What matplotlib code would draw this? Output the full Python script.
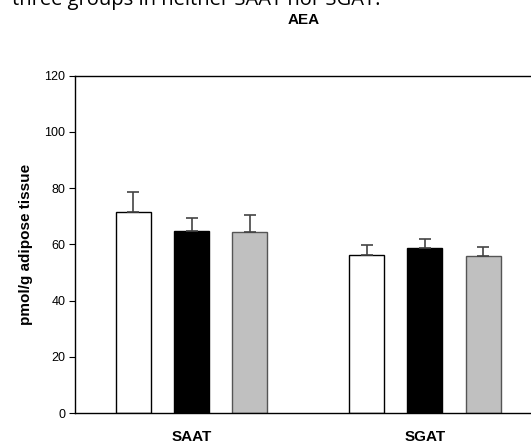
import matplotlib
matplotlib.use("Agg")
import matplotlib.pyplot as plt
import numpy as np

groups = ["SAAT", "SGAT"]
series_colors = ["white", "black", "#c0c0c0"]
edge_colors = ["black", "black", "#555555"]
# values per series (rows) for each group (columns)
means = [
    [71.5, 56.3],   # white
    [64.8, 58.6],   # black
    [64.4, 56.0],   # gray
]
errs = [
    [7.3, 3.6],
    [4.6, 3.4],
    [6.1, 3.2],
]
yticks = [0, 20, 40, 60, 80, 100, 120]
title = "AEA"
ylabel = "pmol/g adipose tissue"
caption = "three groups in neither SAAT nor SGAT."

W, H = 531, 445
fig = plt.figure(figsize=(W / 100, H / 100), dpi=100)
plt.rcParams['font.family'] = ['Liberation Sans', 'DejaVu Sans']

left = 75 / W
bottom = 1 - 413 / H
top = 1 - 75.7 / H
ax = fig.add_axes([left, bottom, 1.0196 - left, top - bottom])

group_pos = np.array([1.0, 5.0])
offsets = [-1, 0, 1]
for i in range(3):
    x = group_pos + offsets[i]
    ax.bar(x, means[i], width=0.6, color=series_colors[i], edgecolor=edge_colors[i],
           linewidth=1.0, zorder=2)
    ax.errorbar(x, means[i], yerr=[np.zeros(2), errs[i]], fmt='none',
                ecolor='#444444', elinewidth=1.2, capsize=4.2, capthick=1.2, zorder=3)

ax.set_xlim(-1, 7)
ax.set_ylim(0, 120)
ax.set_yticks(yticks)
ax.set_yticklabels([str(v) for v in yticks], fontsize=9)
ax.tick_params(axis='y', direction='out', length=4, width=0.8, pad=3)
ax.set_xticks([])
for s in ['left', 'top', 'bottom']:
    ax.spines[s].set_linewidth(1.0)
ax.spines['right'].set_visible(False)

ax.set_ylabel(ylabel, fontsize=11, fontweight='bold', labelpad=8)

for g, name in zip(group_pos, groups):
    ax.text(g, -8.6, name, ha='center', va='center', fontsize=11, fontweight='bold',
            transform=ax.transData)

fig.text(304 / W, 1 - 20 / H, title, ha='center', va='center', fontsize=11, fontweight='bold')
fig.text(12 / W, 1 - 5.5 / H, caption, ha='left', va='baseline', fontsize=14.5,
         family=['Open Sans', 'DejaVu Sans'])

fig.savefig("out.png", dpi=100)
